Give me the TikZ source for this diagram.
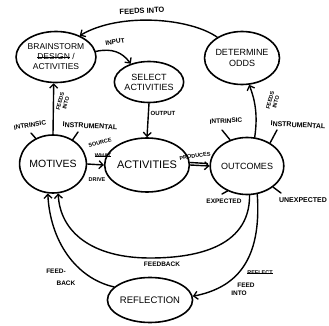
\documentclass[tikz,border=0pt]{standalone}
\usepackage{fontspec}
\setmainfont{Liberation Sans}
\newcommand{\strk}[1]{\setbox0\hbox{#1}\rlap{\rule[0.33ex]{\wd0}{1.1pt}}\box0}
\usetikzlibrary{arrows.meta,shapes.geometric}
\begin{document}
\begin{tikzpicture}[x=1pt,y=-1pt,
  ln/.style={line width=1.4pt, line cap=round, line join=round},
  arr/.style={ln, -{Straight Barb[length=4pt,width=8pt,line width=1.3pt]}},
  bubble/.style={draw, line width=1.6pt, ellipse, inner sep=0pt, align=center},
  lbl/.style={inner sep=0.5pt, align=center, font=\bfseries\fontsize{5.5}{6}\selectfont},
  mlbl/.style={inner sep=0.5pt, align=center, font=\bfseries\fontsize{6.5}{7}\selectfont}
]
\useasboundingbox (0,0) rectangle (329,326);
\fill[white] (0,0) rectangle (329,326);

% main bubbles
\node[bubble, minimum width=62pt, minimum height=51pt, font=\fontsize{8.5}{10}\selectfont] (brain) at (56,57) {BRAINSTORM\\\strk{DESIGN} \ /\\ACTIVITIES};
\node[bubble, minimum width=62pt, minimum height=41pt, font=\fontsize{9}{10}\selectfont] (select) at (149,82) {SELECT\\ACTIVITIES};
\node[bubble, minimum width=60pt, minimum height=53pt, font=\fontsize{9}{11}\selectfont] (odds) at (242,58) {DETERMINE\\ODDS};
\node[bubble, minimum width=63pt, minimum height=58pt, font=\fontsize{10.5}{12}\selectfont] (motives) at (53,164) {MOTIVES};
\node[bubble, minimum width=67pt, minimum height=54pt, font=\fontsize{11}{12}\selectfont] (activ) at (147,165) {ACTIVITIES};
\node[bubble, minimum width=61pt, minimum height=57pt, font=\fontsize{9}{11}\selectfont] (outc) at (247,166) {OUTCOMES};
\node[bubble, minimum width=65pt, minimum height=45pt, font=\fontsize{9.5}{11}\selectfont] (reflect) at (150,300) {REFLECTION};

% connectors
\draw[arr] (odds.140) .. controls (190,18) and (120,12) .. (brain.42);
\node[mlbl, font=\bfseries\fontsize{7.5}{8}\selectfont, rotate=3] (l1) at (142,11) {FEEDS INTO};

\draw[arr] (brain.8) .. controls (112,48) and (122,52) .. (select.135);
\node[mlbl, rotate=10] (l2) at (115,42) {INPUT};

\draw[arr] (select.south) -- (activ.north);
\node[lbl, font=\bfseries\fontsize{6}{7}\selectfont] (l3) at (163,113) {OUTPUT};

\draw[arr] (motives.east) -- (activ.west);
\node[lbl, rotate=15] (l4) at (100,143) {SOURCE};
\node[lbl] (l5) at (103,156) {\strk{WHAT}};
\node[lbl] (l6) at (97,180) {DRIVE};

\draw[arr] (activ.east) -- (outc.west);
\draw[ln] ([yshift=2.5pt]activ.east) -- ([yshift=2.5pt,xshift=-2pt]outc.west);
\node[lbl, rotate=8] (l7) at (195,156) {PRODUCES};

\draw[arr] (motives.north) -- (brain.-95);
\node[lbl, rotate=75] (l8) at (63,102) {FEEDS\\INTO};

\draw[arr] (outc.75) .. controls (258,115) and (255,100) .. (odds.-75);
\node[lbl, rotate=75] (l9) at (273,101) {FEEDS\\INTO};

% ticks
\coordinate (t1) at (31,133);
\coordinate (t2) at (78,132);
\coordinate (t3) at (222,130);
\coordinate (t4) at (277,130);
\coordinate (t5) at (222,194);
\coordinate (t6) at (281,193);
\draw[ln] (motives.124) -- (t1);
\draw[ln] (motives.51) -- (t2);
\draw[ln] (outc.123) -- (t3);
\draw[ln] (outc.45) -- (t4);
\draw[ln] (outc.-128) -- (t5);
\draw[ln] (outc.-39) -- (t6);
\node[mlbl, rotate=10] (m1) at (30,125) {INTRINSIC};
\node[mlbl, font=\bfseries\fontsize{7}{8}\selectfont, rotate=-3] (m2) at (90,126) {INSTRUMENTAL};
\node[mlbl, rotate=3] (o1) at (226,121) {INTRINSIC};
\node[mlbl, font=\bfseries\fontsize{7}{8}\selectfont, rotate=-3] (o2) at (298,125) {INSTRUMENTAL};
\node[mlbl] (o3) at (224,201) {EXPECTED};
\node[mlbl, font=\bfseries\fontsize{7}{8}\selectfont] (o4) at (303,200) {UNEXPECTED};

% feedback loops
\draw[arr] (outc.-85) .. controls (250,250) and (190,258) .. (150,258) .. controls (92,258) and (60,232) .. (motives.-80);
\node[mlbl] (f1) at (162,264) {FEEDBACK};

\draw[arr] (outc.-70) .. controls (262,262) and (235,288) .. (reflect.5);
\node[lbl] (f2) at (260,273) {\strk{REFLECT}};
\node[mlbl] (f3) at (246,285) {FEED};
\node[mlbl] (f4) at (239,293) {INTO};

\draw[arr] (reflect.160) .. controls (75,278) and (50,240) .. (motives.-100);
\node[mlbl] (f5) at (56,271) {FEED-};
\node[mlbl] (f6) at (66,283) {BACK};
\end{tikzpicture}
\end{document}
